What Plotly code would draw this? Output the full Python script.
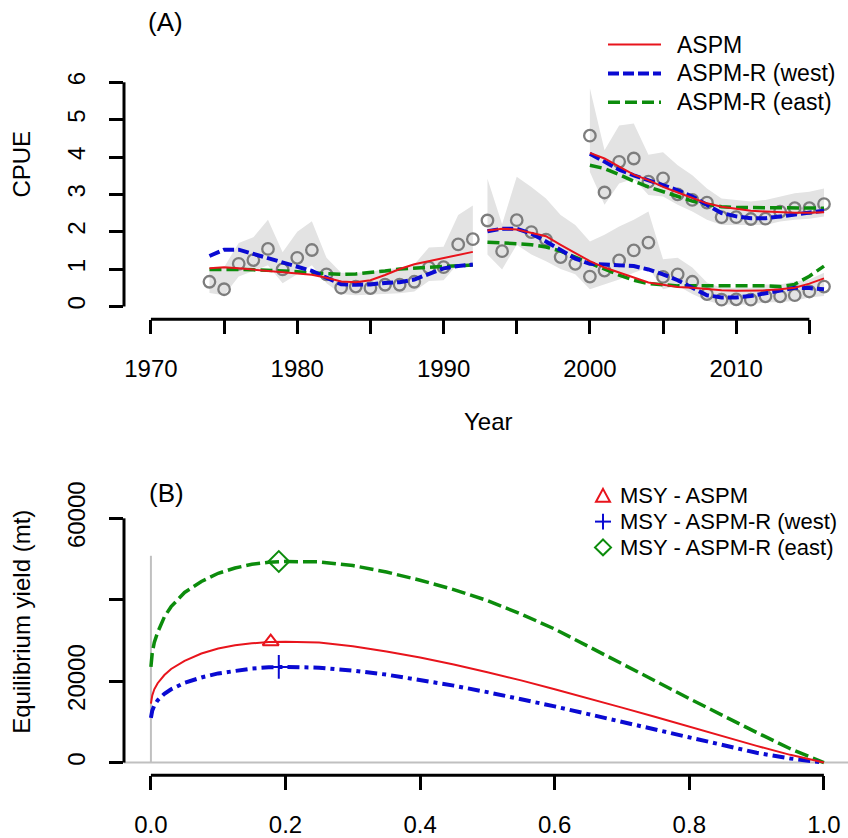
import plotly.graph_objects as go

# ---------------- CPUE series (panel A) ----------------
years1 = list(range(1974, 1993))
obs1 = [0.66, 0.46, 1.14, 1.24, 1.54, 0.99, 1.30, 1.51, 0.86, 0.50, 0.53, 0.49, 0.58, 0.58, 0.66, 1.04, 1.05, 1.66, 1.80]
lo1 = [0.36, 0.30, 0.80, 0.95, 1.10, 0.62, 0.85, 1.10, 0.62, 0.33, 0.30, 0.30, 0.33, 0.35, 0.40, 0.68, 0.70, 1.15, 1.15]
hi1 = [1.02, 1.05, 1.70, 1.85, 2.32, 1.45, 2.00, 2.28, 1.30, 0.90, 0.90, 0.92, 1.00, 1.02, 1.12, 1.58, 1.60, 2.45, 2.70]
aspm1 = [1.02, 1.05, 1.02, 0.99, 0.96, 0.93, 0.90, 0.85, 0.77, 0.67, 0.65, 0.70, 0.84, 1.00, 1.13, 1.21, 1.28, 1.36, 1.46]
west1 = [1.35, 1.52, 1.52, 1.41, 1.28, 1.17, 1.08, 0.95, 0.77, 0.59, 0.58, 0.59, 0.63, 0.65, 0.72, 0.88, 1.02, 1.08, 1.12]
east1 = [0.99, 1.00, 0.99, 0.98, 0.97, 0.95, 0.93, 0.90, 0.88, 0.86, 0.87, 0.90, 0.95, 1.00, 1.03, 1.05, 1.07, 1.09, 1.11]

years2 = list(range(1993, 2017))
obs2 = [2.30, 1.48, 2.31, 1.99, 1.79, 1.32, 1.14, 0.80, 0.96, 1.23, 1.50, 1.71, 0.79, 0.86, 0.66, 0.33, 0.18, 0.19, 0.18, 0.27, 0.27, 0.30, 0.40, 0.53]
lo2 = [1.39, 0.99, 1.65, 1.39, 1.21, 1.00, 0.86, 0.46, 0.59, 0.72, 0.90, 1.04, 0.46, 0.55, 0.33, 0.15, 0.05, 0.05, 0.05, 0.11, 0.11, 0.15, 0.24, 0.28]
hi2 = [3.42, 2.20, 3.47, 3.20, 2.89, 2.45, 2.18, 1.74, 1.92, 2.14, 2.32, 2.54, 1.26, 1.30, 1.04, 0.64, 0.50, 0.50, 0.50, 0.59, 0.59, 0.67, 0.72, 0.90]
aspm2 = [2.03, 2.08, 2.06, 1.96, 1.88, 1.65, 1.43, 1.21, 1.04, 0.90, 0.77, 0.64, 0.58, 0.52, 0.50, 0.46, 0.43, 0.42, 0.42, 0.43, 0.46, 0.50, 0.61, 0.75]
west2 = [2.01, 2.08, 2.08, 1.95, 1.74, 1.52, 1.28, 1.14, 1.12, 1.12, 1.08, 0.99, 0.86, 0.70, 0.49, 0.30, 0.24, 0.24, 0.28, 0.35, 0.43, 0.50, 0.49, 0.46]
east2 = [1.72, 1.71, 1.68, 1.65, 1.59, 1.48, 1.32, 1.17, 0.99, 0.84, 0.70, 0.61, 0.58, 0.55, 0.55, 0.55, 0.55, 0.56, 0.56, 0.55, 0.53, 0.59, 0.81, 1.08]

years3 = list(range(2000, 2017))
obs3 = [4.57, 3.05, 3.87, 3.96, 3.34, 3.43, 3.00, 2.85, 2.78, 2.39, 2.39, 2.34, 2.35, 2.54, 2.63, 2.63, 2.74]
lo3 = [3.60, 2.72, 3.29, 3.42, 2.98, 2.94, 2.72, 2.54, 2.32, 2.18, 2.16, 2.18, 2.18, 2.27, 2.32, 2.35, 2.41]
hi3 = [5.84, 4.18, 4.84, 4.90, 4.06, 4.13, 3.78, 3.51, 3.16, 2.89, 2.85, 2.81, 2.85, 2.94, 3.03, 3.07, 3.16]
aspm3 = [4.11, 3.96, 3.74, 3.53, 3.38, 3.20, 3.05, 2.91, 2.76, 2.67, 2.61, 2.56, 2.54, 2.52, 2.51, 2.51, 2.52]
west3 = [4.09, 3.87, 3.66, 3.51, 3.38, 3.25, 3.11, 2.94, 2.72, 2.50, 2.41, 2.36, 2.36, 2.41, 2.45, 2.50, 2.56]
east3 = [3.78, 3.69, 3.53, 3.35, 3.20, 3.07, 2.94, 2.82, 2.73, 2.67, 2.65, 2.65, 2.65, 2.65, 2.63, 2.63, 2.63]

year_ticks = list(range(1970, 2016, 5))
year_labels = ["1970", "", "1980", "", "1990", "", "2000", "", "2010", ""]
cpue_ticks = [0, 1, 2, 3, 4, 5, 6]

# ---------------- Equilibrium yield curves (panel B) ----------------
rel_f = [0, 0.002, 0.005, 0.01, 0.02, 0.03, 0.05, 0.075, 0.1, 0.125, 0.15, 0.175, 0.2, 0.25, 0.3,
         0.35, 0.4, 0.45, 0.5, 0.55, 0.6, 0.65, 0.7, 0.75, 0.8, 0.85, 0.9, 0.95, 1.0]
yield_aspm = [14500, 16500, 18000, 19500, 21500, 23000, 25000, 26800, 28000, 28800, 29300, 29600, 29700, 29500, 28600,
              27300, 25800, 24100, 22200, 20200, 18000, 15800, 13500, 11200, 8800, 6400, 4100, 1900, 0]
yield_west = [11000, 12800, 14000, 15300, 16900, 18000, 19600, 20900, 21900, 22600, 23100, 23400, 23500, 23300, 22600,
              21600, 20300, 18900, 17300, 15600, 13800, 11900, 10000, 8000, 6000, 4100, 2400, 1000, 0]
yield_east = [23500, 27000, 29500, 32000, 35800, 38300, 41800, 44500, 46500, 47800, 48700, 49200, 49400, 49300, 48400,
              46800, 44800, 42500, 39800, 36500, 32800, 28600, 24300, 20000, 15700, 11500, 7400, 3400, 0]
msy_f = [0.178, 0.19, 0.19]
msy_y = [29700, 23500, 49400]
yield_ticks = [0, 20000, 40000, 60000]
yield_labels = ["0", "20000", "", "60000"]
f_ticks = [0, 0.2, 0.4, 0.6, 0.8, 1.0]
f_labels = ["0.0", "0.2", "0.4", "0.6", "0.8", "1.0"]

RED, BLUE, GREEN = "#e8141c", "#0a0ad2", "#0c8c0c"
GREY_PT, BAND = "#7d7d7d", "#e3e3e3"
FONT = "Liberation Sans, Arial, sans-serif"

W, H = 848, 838


def fx(p):
    return p / W


def fy(p):
    return 1 - p / H


fig = go.Figure()

# confidence bands
for yrs, lo, hi in [(years1, lo1, hi1), (years2, lo2, hi2), (years3, lo3, hi3)]:
    fig.add_trace(go.Scatter(x=yrs + yrs[::-1], y=hi + lo[::-1], fill="toself", fillcolor=BAND,
                             line=dict(width=0), mode="lines", hoverinfo="skip", showlegend=False,
                             xaxis="x", yaxis="y"))

# observed CPUE
for yrs, ob in [(years1, obs1), (years2, obs2), (years3, obs3)]:
    fig.add_trace(go.Scatter(x=yrs, y=ob, mode="markers", showlegend=False,
                             marker=dict(symbol="circle-open", size=11.5, color=GREY_PT, line=dict(width=2.3)),
                             xaxis="x", yaxis="y"))

# model fits
for yrs, a, w, e in [(years1, aspm1, west1, east1), (years2, aspm2, west2, east2), (years3, aspm3, west3, east3)]:
    fig.add_trace(go.Scatter(x=yrs, y=e, mode="lines", showlegend=False,
                             line=dict(color=GREEN, width=3.5, dash="12px,5px"), xaxis="x", yaxis="y"))
    fig.add_trace(go.Scatter(x=yrs, y=w, mode="lines", showlegend=False,
                             line=dict(color=BLUE, width=4, dash="11px,4px"), xaxis="x", yaxis="y"))
    fig.add_trace(go.Scatter(x=yrs, y=a, mode="lines", showlegend=False,
                             line=dict(color=RED, width=2), xaxis="x", yaxis="y"))

# panel B curves
fig.add_trace(go.Scatter(x=rel_f, y=yield_east, mode="lines", showlegend=False,
                         line=dict(color=GREEN, width=3.5, dash="14px,5px"), xaxis="x2", yaxis="y2"))
fig.add_trace(go.Scatter(x=rel_f, y=yield_west, mode="lines", showlegend=False,
                         line=dict(color=BLUE, width=4, dash="12px,5px,4px,5px"), xaxis="x2", yaxis="y2"))
fig.add_trace(go.Scatter(x=rel_f, y=yield_aspm, mode="lines", showlegend=False,
                         line=dict(color=RED, width=2), xaxis="x2", yaxis="y2"))

# MSY points
msy_style = [("triangle-up-open", RED, 14), ("cross-thin-open", BLUE, 17), ("diamond-open", GREEN, 16)]
for (sym, col, sz), fv, yv in zip(msy_style, msy_f, msy_y):
    fig.add_trace(go.Scatter(x=[fv], y=[yv], mode="markers", showlegend=False,
                             marker=dict(symbol=sym, size=sz, color=col, line=dict(width=2, color=col)),
                             xaxis="x2", yaxis="y2"))

tickfont = dict(family=FONT, size=24, color="black")
common = dict(showgrid=False, zeroline=False, showline=False, ticks="outside", ticklen=14,
              tickwidth=3, tickcolor="black", tickfont=tickfont)

fig.update_layout(
    width=W, height=H, margin=dict(l=0, r=0, t=0, b=0),
    paper_bgcolor="white", plot_bgcolor="white", showlegend=False,
    xaxis=dict(domain=[fx(124), 1], range=[1968.16, 2017.64], anchor="y",
               tickmode="array", tickvals=year_ticks, ticktext=year_labels,
               ticklabelstandoff=14, **common),
    yaxis=dict(domain=[fy(322), 1], range=[-0.3451, 8.203], anchor="x",
               tickmode="array", tickvals=cpue_ticks, ticktext=[str(v) for v in cpue_ticks],
               tickangle=-90, ticklabelstandoff=14, **common),
    xaxis2=dict(domain=[fx(124), 1], range=[-0.04, 1.0358], anchor="y2",
                tickmode="array", tickvals=f_ticks, ticktext=f_labels,
                ticklabelstandoff=14, **common),
    yaxis2=dict(domain=[fy(781.7), fy(440)], range=[-3094, 80146], anchor="x2",
                tickmode="array", tickvals=yield_ticks, ticktext=yield_labels,
                tickangle=-90, ticklabelstandoff=14, **common),
)

shapes = []
axis_line = dict(color="black", width=3)
# R-style axis lines spanning first to last tick
shapes.append(dict(type="line", xref="x", yref="paper", x0=1970, x1=2015, y0=fy(322), y1=fy(322), line=axis_line))
shapes.append(dict(type="line", xref="paper", yref="y", x0=fx(124), x1=fx(124), y0=0, y1=6, line=axis_line))
shapes.append(dict(type="line", xref="x2", yref="paper", x0=0, x1=1, y0=fy(781.7), y1=fy(781.7), line=axis_line))
shapes.append(dict(type="line", xref="paper", yref="y2", x0=fx(124), x1=fx(124), y0=0, y1=60000, line=axis_line))
# grey reference lines in panel B
shapes.append(dict(type="line", xref="paper", yref="y2", x0=fx(124), x1=1, y0=0, y1=0,
                   line=dict(color="#c0c0c0", width=2), layer="below"))
shapes.append(dict(type="line", xref="x2", yref="y2", x0=0, x1=0, y0=0, y1=50800,
                   line=dict(color="#c0c0c0", width=2), layer="below"))

# legend keys, panel A
leg_a = [("ASPM", RED, 2, "solid", 45), ("ASPM-R (west)", BLUE, 4, "11px,4px", 74),
         ("ASPM-R (east)", GREEN, 3.5, "12px,5px", 103)]
for _, col, lw, dsh, yy in leg_a:
    shapes.append(dict(type="line", xref="paper", yref="paper", x0=fx(608), x1=fx(661), y0=fy(yy), y1=fy(yy),
                       line=dict(color=col, width=lw, dash=dsh)))

# legend keys, panel B
cx = 603
ty = 500
shapes.append(dict(type="path", xref="paper", yref="paper", line=dict(color=RED, width=2),
                   path=f"M{fx(cx)},{fy(ty-7)} L{fx(cx+7)},{fy(ty+6)} L{fx(cx-7)},{fy(ty+6)} Z"))
py = 526
shapes.append(dict(type="line", xref="paper", yref="paper", x0=fx(cx - 8), x1=fx(cx + 8), y0=fy(py), y1=fy(py),
                   line=dict(color=BLUE, width=2)))
shapes.append(dict(type="line", xref="paper", yref="paper", x0=fx(cx), x1=fx(cx), y0=fy(py - 8), y1=fy(py + 8),
                   line=dict(color=BLUE, width=2)))
dy = 552
shapes.append(dict(type="path", xref="paper", yref="paper", line=dict(color=GREEN, width=2),
                   path=f"M{fx(cx)},{fy(dy-8)} L{fx(cx+8)},{fy(dy)} L{fx(cx)},{fy(dy+8)} L{fx(cx-8)},{fy(dy)} Z"))
fig.update_layout(shapes=shapes)

ann = []


def label(text, x, y, size=23, anchor="center", angle=0):
    ann.append(dict(text=text, x=fx(x), y=fy(y), xref="paper", yref="paper", showarrow=False,
                    xanchor=anchor, yanchor="middle", textangle=angle,
                    font=dict(family=FONT, size=size, color="black")))


label("(A)", 165, 22, size=26)
label("(B)", 166, 497, size=26)
label("CPUE", 22, 166, size=24, angle=-90)
label("Year", 488, 425, size=24)
label("Equilibrium yield (mt)", 22, 627, size=24, angle=-90)
for name, _, _, _, yy in leg_a:
    label(name, 675, yy, size=23, anchor="left")
for name, yy in [("MSY - ASPM", ty), ("MSY - ASPM-R (west)", py), ("MSY - ASPM-R (east)", dy)]:
    label(name, 618, yy, size=22, anchor="left")
fig.update_layout(annotations=ann)

fig.write_html("out.html")
